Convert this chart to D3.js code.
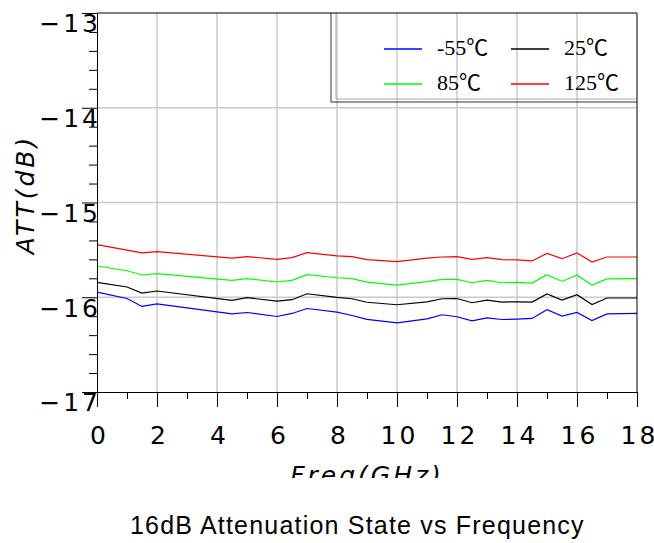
<!DOCTYPE html>
<html>
<head>
<meta charset="utf-8">
<script src="https://cdn.jsdelivr.net/npm/d3@7"></script>
<style>
body { margin: 0; background: #fff; }
svg { display: block; }
.tick line { stroke: #000; }
.hand { font-family: "DejaVu Sans", sans-serif; font-size: 25px; letter-spacing: 3px; fill: #000; }
</style>
</head>
<body>
<script>
var freq = [0, 1, 1.5, 2, 4.5, 5, 6, 6.5, 7, 8, 8.5, 9, 10, 11, 11.5, 12, 12.5, 13, 13.5, 14, 14.5, 15, 15.5, 16, 16.5, 17, 18];
var attM55 = [-15.945, -16.013, -16.097, -16.069, -16.175, -16.161, -16.203, -16.171, -16.119, -16.157, -16.193, -16.233, -16.270, -16.228, -16.185, -16.206, -16.249, -16.217, -16.235, -16.231, -16.224, -16.132, -16.199, -16.161, -16.246, -16.175, -16.171];
var att25 = [-15.843, -15.892, -15.956, -15.934, -16.032, -16.005, -16.040, -16.026, -15.963, -16.002, -16.016, -16.053, -16.079, -16.048, -16.016, -16.013, -16.058, -16.030, -16.051, -16.048, -16.051, -15.966, -16.030, -15.974, -16.076, -16.008, -16.008];
var att85 = [-15.670, -15.720, -15.765, -15.751, -15.822, -15.804, -15.839, -15.822, -15.762, -15.794, -15.804, -15.841, -15.871, -15.836, -15.812, -15.812, -15.847, -15.822, -15.847, -15.843, -15.850, -15.762, -15.833, -15.765, -15.871, -15.807, -15.804];
var att125 = [-15.444, -15.503, -15.532, -15.519, -15.587, -15.571, -15.600, -15.582, -15.529, -15.564, -15.571, -15.603, -15.624, -15.587, -15.575, -15.571, -15.600, -15.582, -15.603, -15.606, -15.617, -15.537, -15.593, -15.532, -15.628, -15.575, -15.575];
var seriesNames = ["-55\u2103", "25\u2103", "85\u2103", "125\u2103"];
var seriesColors = ["#0000ff", "#000000", "#00ff00", "#ff0000"];
var seriesValues = [attM55, att25, att85, att125];
var xTicks = [0, 2, 4, 6, 8, 10, 12, 14, 16, 18];
var yTicks = [-17, -16, -15, -14, -13];

var width = 654, height = 543;
var plotLeft = 97, plotRight = 637, plotTop = 13, plotBottom = 392;

var svg = d3.select("body").append("svg")
    .attr("width", width)
    .attr("height", height);

svg.append("defs").append("clipPath").attr("id", "chartClip")
    .append("rect").attr("x", 0).attr("y", 0).attr("width", width).attr("height", 478);

var x = d3.scaleLinear().domain([0, 18]).range([plotLeft, plotRight]);
var y = d3.scaleLinear().domain([-17, -13]).range([plotBottom, plotTop]);

// grid
svg.append("g").selectAll("line")
    .data(xTicks.slice(1, -1))
    .enter().append("line")
    .attr("x1", function(d) { return x(d); })
    .attr("x2", function(d) { return x(d); })
    .attr("y1", plotTop).attr("y2", plotBottom)
    .attr("stroke", "#cacaca").attr("stroke-width", 1.5);
svg.append("g").selectAll("line")
    .data(yTicks.slice(1, -1))
    .enter().append("line")
    .attr("y1", function(d) { return y(d); })
    .attr("y2", function(d) { return y(d); })
    .attr("x1", plotLeft).attr("x2", plotRight)
    .attr("stroke", "#cacaca").attr("stroke-width", 1.5);

// legend box (transparent, grid shows through)
svg.append("line").attr("x1", 331).attr("x2", 331).attr("y1", plotTop).attr("y2", 102).attr("stroke", "#333");
svg.append("line").attr("x1", 331).attr("x2", plotRight).attr("y1", 102).attr("y2", 102).attr("stroke", "#333");
svg.append("line").attr("x1", 336).attr("x2", 336).attr("y1", plotTop).attr("y2", 99).attr("stroke", "#aaa");
svg.append("line").attr("x1", 336).attr("x2", plotRight).attr("y1", 99).attr("y2", 99).attr("stroke", "#aaa");

// lines
var line = d3.line()
    .x(function(d, i) { return x(freq[i]); })
    .y(function(d) { return y(d); });
svg.append("g").selectAll("path")
    .data(seriesValues)
    .enter().append("path")
    .attr("d", line)
    .attr("fill", "none")
    .attr("stroke", function(d, i) { return seriesColors[i]; })
    .attr("stroke-width", 1.2);

// frame
svg.append("line").attr("x1", plotLeft).attr("x2", plotRight).attr("y1", plotTop).attr("y2", plotTop).attr("stroke", "#000");
svg.append("line").attr("x1", plotRight).attr("x2", plotRight).attr("y1", plotTop).attr("y2", plotBottom).attr("stroke", "#000");

// x axis
var xAxis = d3.axisBottom(x).tickValues(xTicks).tickSize(15).tickSizeOuter(0).tickFormat(d3.format("d"));
var xMinor = d3.axisBottom(x).tickValues(d3.range(1, 18, 2)).tickSize(7).tickSizeOuter(0).tickFormat("");
var xG = svg.append("g").attr("transform", "translate(0," + plotBottom + ")").call(xAxis);
svg.append("g").attr("transform", "translate(0," + plotBottom + ")").call(xMinor).select(".domain").remove();
xG.select(".domain").attr("stroke", "#000");
xG.selectAll("text").attr("class", "hand").attr("y", 34).attr("dx", "2px");
xG.attr("font-size", null).attr("font-family", null);

// y axis
var yAxis = d3.axisLeft(y).tickValues(yTicks).tickSize(15).tickSizeOuter(0).tickFormat(d3.format("d"));
var yMinor = d3.axisLeft(y).tickValues(d3.range(-17, -13, 0.2).filter(function(d) { return Math.abs(d - Math.round(d)) > 0.01; })).tickSize(8).tickSizeOuter(0).tickFormat("");
var yG = svg.append("g").attr("transform", "translate(" + plotLeft + ",0)").call(yAxis);
svg.append("g").attr("transform", "translate(" + plotLeft + ",0)").call(yMinor).select(".domain").remove();
yG.select(".domain").attr("stroke", "#000");
yG.selectAll("text").attr("class", "hand").attr("x", 4).attr("dy", "0.75em");
yG.attr("font-size", null).attr("font-family", null);

// axis titles
svg.append("text").attr("class", "hand")
    .attr("clip-path", "url(#chartClip)")
    .attr("x", (plotLeft + plotRight) / 2).attr("y", 484)
    .attr("text-anchor", "middle")
    .style("font-style", "italic")
    .text("Freq(GHz)");
svg.append("text").attr("class", "hand")
    .attr("transform", "translate(34," + ((plotTop + plotBottom) / 2 - 8) + ") rotate(-90)")
    .attr("text-anchor", "middle")
    .style("font-style", "italic")
    .text("ATT(dB)");

// legend
var legX = [384, 511], legY = [49, 84];
var leg = svg.append("g").selectAll("g")
    .data(seriesNames)
    .enter().append("g")
    .attr("transform", function(d, i) { return "translate(" + legX[i % 2] + "," + legY[Math.floor(i / 2)] + ")"; });
leg.append("line").attr("x1", 0).attr("x2", 38).attr("y1", 0).attr("y2", 0)
    .attr("stroke", function(d, i) { return seriesColors[i]; }).attr("stroke-width", 1.5);
leg.append("text").attr("x", 53).attr("y", 6)
    .style("font-family", "'Liberation Serif', 'Noto Sans CJK SC', serif")
    .style("font-size", "22px")
    .text(function(d) { return d; });

// title
svg.append("text")
    .attr("x", 130).attr("y", 534)
    .style("font-family", "'Liberation Sans', Arial, sans-serif")
    .style("font-size", "25px")
    .style("letter-spacing", "1.2px")
    .text("16dB Attenuation State vs Frequency");
</script>
</body>
</html>
